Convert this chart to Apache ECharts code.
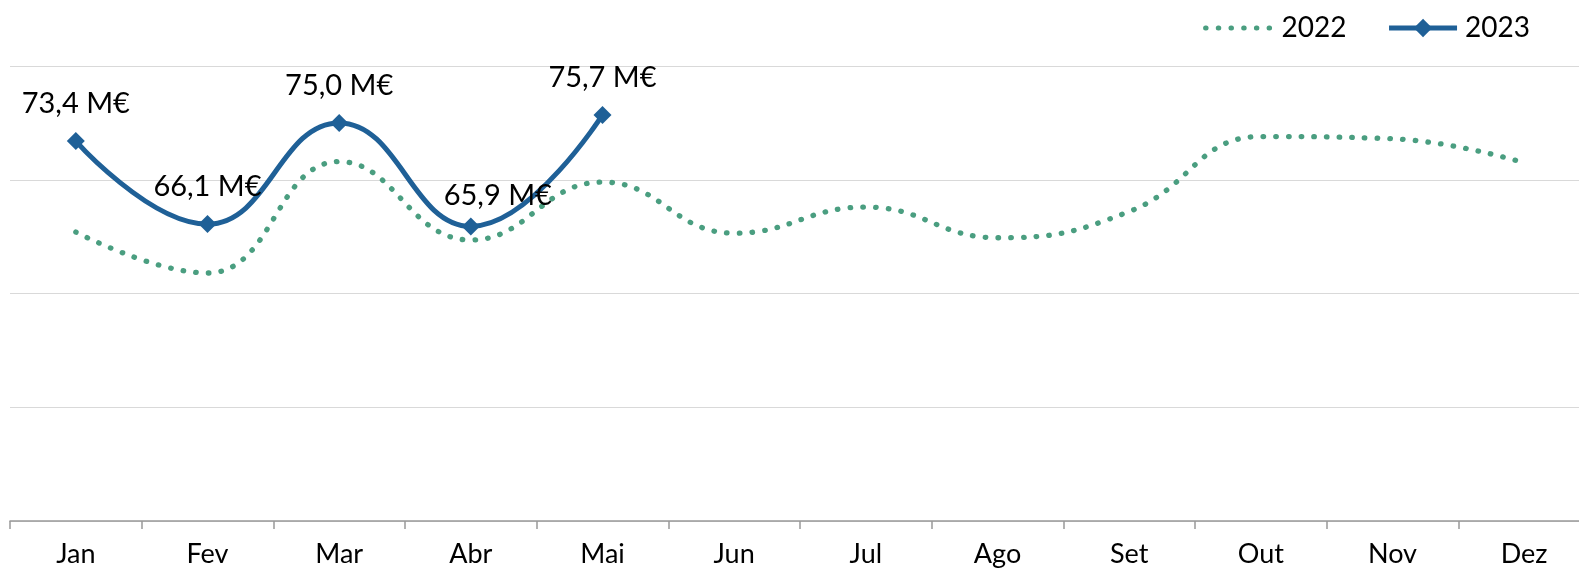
<!DOCTYPE html>
<html>
<head>
<meta charset="utf-8">
<script src="https://cdn.jsdelivr.net/npm/echarts@6/dist/echarts.min.js"></script>
<style>
html,body{margin:0;padding:0;background:#fff;overflow:hidden;}
#chart{width:1579px;height:570px;}
</style>
</head>
<body>
<div id="chart"></div>
<script>
const categories = ['Jan','Fev','Mar','Abr','Mai','Jun','Jul','Ago','Set','Out','Nov','Dez'];
const values2022 = [65.4, 61.8, 71.6, 64.7, 69.8, 65.3, 67.6, 64.9, 67.2, 73.8, 73.6, 71.5];
const values2023 = [73.4, 66.1, 75.0, 65.9, 75.7];
const seriesNames = ['2022', '2023'];

const FONT = 'Lato';
const GREEN = '#4a9e80';
const BLUE = '#1f6097';
const DOTS = [0.5, 12.2];
const chart = echarts.init(document.getElementById('chart'));

const fmt = v => v.toFixed(1).replace('.', ',') + ' M€';

const data2023 = values2023.map((v, i) => {
  const o = { value: v };
  if (i === 3) o.label = { offset: [27, 7] };
  return o;
});

chart.setOption({
  animation: false,
  textStyle: { fontFamily: FONT },
  legend: {
    right: 44,
    top: 9,
    itemWidth: 68,
    itemHeight: 23,
    itemGap: 40,
    textStyle: { fontSize: 28, color: '#000', fontFamily: FONT, padding: [0, 0, 0, 3] },
    data: [
      { name: seriesNames[0], itemStyle: { opacity: 0 }, lineStyle: { color: GREEN, width: 5, type: DOTS, cap: 'round' } },
      { name: seriesNames[1], lineStyle: { color: BLUE, width: 5 } }
    ]
  },
  grid: { left: 10, right: -11, top: 66, bottom: 49, containLabel: false, outerBoundsMode: 'none' },
  xAxis: {
    type: 'category',
    data: categories,
    boundaryGap: true,
    axisLine: { lineStyle: { color: '#999', width: 1.5 } },
    axisTick: { show: true, length: 8, lineStyle: { color: '#999', width: 1.5 } },
    axisLabel: { fontSize: 27, color: '#000', margin: 20, fontFamily: FONT }
  },
  yAxis: {
    type: 'value',
    min: 40,
    max: 80,
    interval: 10,
    axisLabel: { show: false },
    axisLine: { show: false },
    axisTick: { show: false },
    splitLine: { lineStyle: { color: '#d9d9d9', width: 1.2 } }
  },
  series: [
    {
      name: seriesNames[0],
      type: 'line',
      data: values2022,
      smooth: 0.45,
      symbol: 'none',
      lineStyle: { color: GREEN, width: 5.3, type: DOTS, cap: 'round' },
      itemStyle: { color: GREEN },
      z: 2
    },
    {
      name: seriesNames[1],
      type: 'line',
      data: data2023,
      smooth: 0.45,
      symbol: 'diamond',
      symbolSize: 18,
      lineStyle: { color: BLUE, width: 5 },
      itemStyle: { color: BLUE },
      label: {
        show: true,
        position: 'top',
        distance: 14,
        fontSize: 29,
        color: '#000',
        fontFamily: FONT,
        formatter: p => fmt(p.value)
      },
      z: 3
    }
  ]
});
</script>
</body>
</html>
